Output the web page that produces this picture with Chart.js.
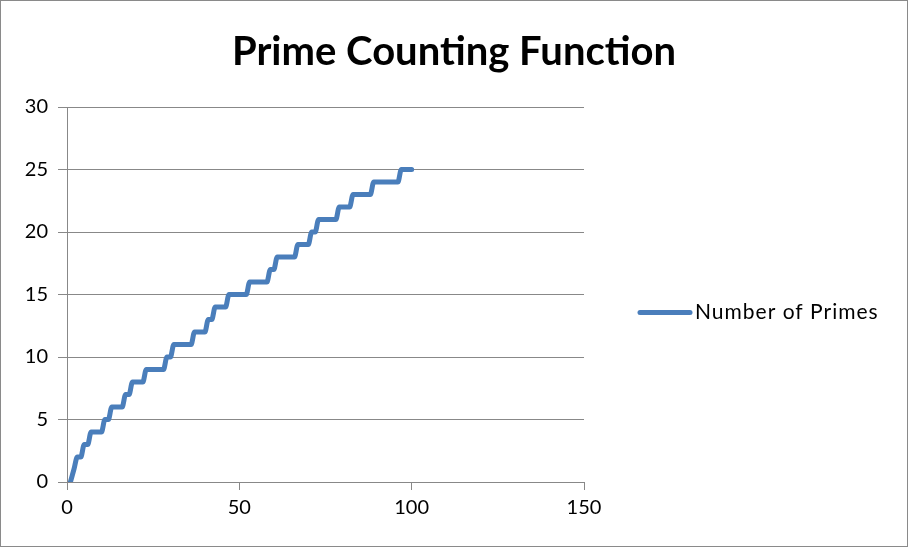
<!DOCTYPE html>
<html>
<head>
<meta charset="utf-8">
<script src="https://cdn.jsdelivr.net/npm/chart.js@4/dist/chart.umd.min.js"></script>
<style>
html,body{margin:0;padding:0;background:#fff;}
#wrap{width:906px;height:545px;border:1px solid #8a8a8a;position:relative;}
canvas{display:block;}
</style>
</head>
<body>
<div id="wrap"><canvas id="c" width="906" height="545"></canvas></div>
<script>
const numbers = [1,2,3,4,5,6,7,8,9,10,11,12,13,14,15,16,17,18,19,20,21,22,23,24,25,26,27,28,29,30,31,32,33,34,35,36,37,38,39,40,41,42,43,44,45,46,47,48,49,50,51,52,53,54,55,56,57,58,59,60,61,62,63,64,65,66,67,68,69,70,71,72,73,74,75,76,77,78,79,80,81,82,83,84,85,86,87,88,89,90,91,92,93,94,95,96,97,98,99,100];
const primeCounts = [0,1,2,2,3,3,4,4,4,4,5,5,6,6,6,6,7,7,8,8,8,8,9,9,9,9,9,9,10,10,11,11,11,11,11,11,12,12,12,12,13,13,14,14,14,14,15,15,15,15,15,15,16,16,16,16,16,16,17,17,18,18,18,18,18,18,19,19,19,19,20,20,21,21,21,21,21,21,22,22,22,22,23,23,23,23,23,23,24,24,24,24,24,24,24,24,25,25,25,25];
const seriesName = 'Number of Primes';
const titleText = 'Prime Counting Function';

const points = numbers.map((n, i) => ({x: n, y: primeCounts[i]}));
const FONT = 'Lato, "Open Sans", sans-serif';
const LINE_COLOR = '#4a7ebb';

const decorations = {
  id: 'decorations',
  afterDraw(chart) {
    const ctx = chart.ctx;
    const area = chart.chartArea;
    ctx.save();
    // title centred on the whole canvas
    ctx.fillStyle = '#000';
    ctx.font = 'bold 40px ' + FONT;
    ctx.textAlign = 'center';
    ctx.textBaseline = 'alphabetic';
    ctx.fillText(titleText, chart.width / 2, 64);
    // legend on the right
    const y = (area.top + area.bottom) / 2 + 18;
    const x0 = area.right + 56;
    ctx.strokeStyle = LINE_COLOR;
    ctx.lineWidth = 5;
    ctx.lineCap = 'round';
    ctx.beginPath();
    ctx.moveTo(x0, y);
    ctx.lineTo(x0 + 50, y);
    ctx.stroke();
    ctx.font = '21px ' + FONT;
    ctx.letterSpacing = '1px';
    ctx.textBaseline = 'middle';
    ctx.textAlign = 'left';
    ctx.fillText(chart.data.datasets[0].label, x0 + 55, y);
    ctx.restore();
  }
};

new Chart(document.getElementById('c'), {
  type: 'scatter',
  data: {
    datasets: [{
      label: seriesName,
      data: points,
      showLine: true,
      borderColor: LINE_COLOR,
      backgroundColor: LINE_COLOR,
      borderWidth: 5,
      pointRadius: 0,
      pointHoverRadius: 0,
      cubicInterpolationMode: 'monotone',
      borderCapStyle: 'round',
      borderJoinStyle: 'round'
    }]
  },
  plugins: [decorations],
  options: {
    responsive: false,
    animation: false,
    layout: { padding: { top: 106, right: 323, bottom: 0, left: 0 } },
    plugins: {
      title: { display: false },
      legend: { display: false },
      tooltip: { enabled: false }
    },
    scales: {
      x: {
        type: 'linear',
        min: 0, max: 150,
        ticks: { stepSize: 50, color: '#000', font: { family: FONT, size: 20 }, padding: 6 },
        grid: { drawOnChartArea: false, drawTicks: true, tickLength: 8, color: '#888' },
        border: { color: '#888' },
        afterFit: (s) => { s.height = 64; }
      },
      y: {
        min: 0, max: 30,
        ticks: { stepSize: 5, color: '#000', font: { family: FONT, size: 20 }, padding: 10 },
        grid: { drawTicks: true, tickLength: 9, color: '#888' },
        border: { color: '#888' },
        afterFit: (s) => { s.width = 66; }
      }
    }
  }
});
</script>
</body>
</html>
